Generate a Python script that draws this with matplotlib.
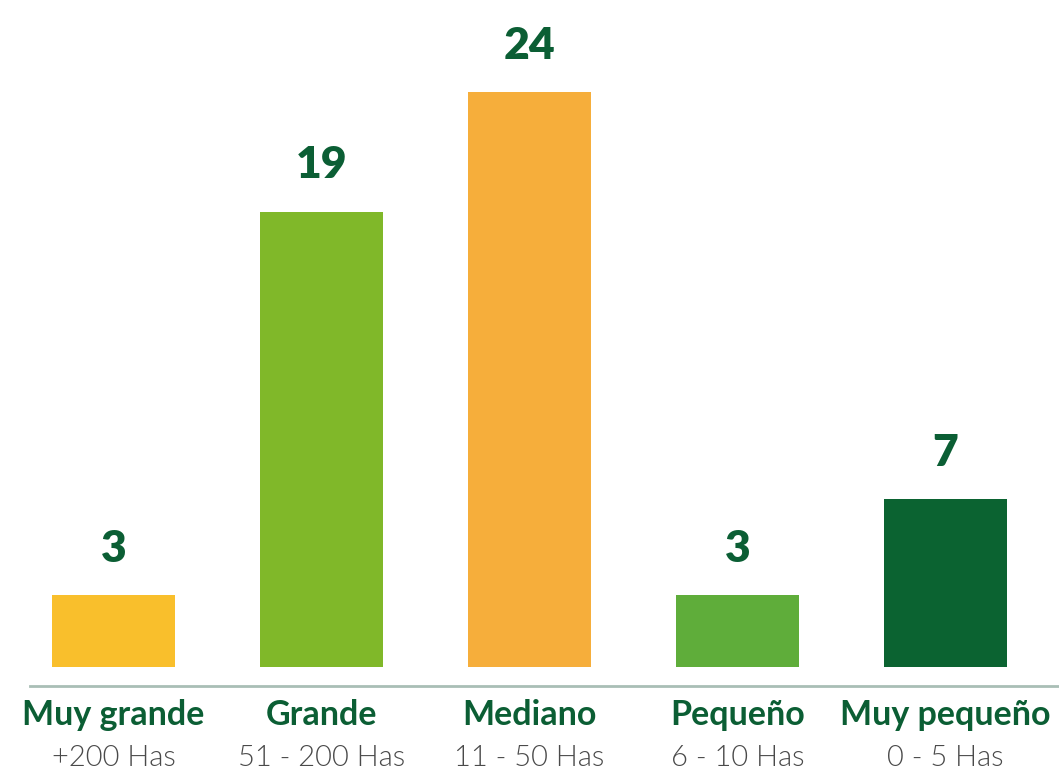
import numpy as np
import matplotlib.pyplot as plt

categories = ['Muy grande', 'Grande', 'Mediano', 'Pequeño', 'Muy pequeño']
ranges = ['+200 Has', '51 - 200 Has', '11 - 50 Has', '6 - 10 Has', '0 - 5 Has']
values = [3, 19, 24, 3, 7]
colors = ['#F9BF2C', '#80B829', '#F6AE3B', '#5FAD3A', '#0B6331']

TEXT_GREEN = '#0B5E34'

fig = plt.figure(figsize=(10.59, 7.72), dpi=100)
ax = fig.add_axes([0, 0, 1, 1])

ind = np.arange(len(values))
bars = ax.bar(ind, values, 0.59, color=colors)

ax.set_xlim(-0.546, 4.546)
ax.set_ylim(-4.38, 27.84)
ax.axis('off')

# baseline under the bars
ax.axhline(-0.79, xmin=30 / 1059, xmax=1, color='#A9BEB6', lw=2)

for rect, v in zip(bars, values):
    ax.annotate(str(v), (rect.get_x() + rect.get_width() / 2, v),
                xytext=(0, 19), textcoords='offset points',
                ha='center', va='bottom', fontsize=32,
                family='Lato', weight='heavy', color=TEXT_GREEN)

for i, (cat, rng) in enumerate(zip(categories, ranges)):
    ax.text(i, -2.0, cat, ha='center', va='center', fontsize=24.5,
            family='Lato', weight='bold', color=TEXT_GREEN)
    ax.text(i, -3.78, rng, ha='center', va='center', fontsize=21,
            family='Lato', weight=300, color='#4A4A4A')

plt.savefig('out.png', dpi=100)
